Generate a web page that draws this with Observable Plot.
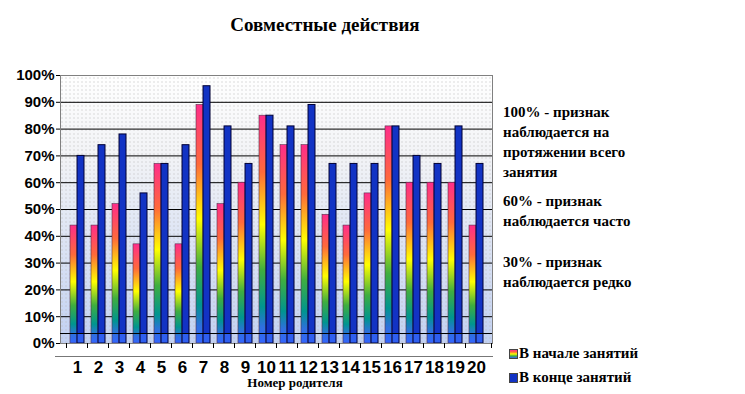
<!DOCTYPE html>
<html><head><meta charset="utf-8">
<script src="https://cdn.jsdelivr.net/npm/d3@7"></script>
<script src="https://cdn.jsdelivr.net/npm/@observablehq/plot@0.6"></script>
<style>
body{margin:0;background:#fff;}
#wrap{position:relative;width:745px;height:394px;overflow:hidden;}
#wrap svg{position:absolute;left:0;top:0;}
.t{position:absolute;font-weight:bold;color:#000;white-space:nowrap;font-family:'Liberation Serif','DejaVu Serif',serif;}
.sw{position:absolute;width:7px;height:8px;border:1px solid #444;}
.ln{position:absolute;}
</style></head><body><div id="wrap"></div>
<script>
const categories = ["1","2","3","4","5","6","7","8","9","10","11","12","13","14","15","16","17","18","19","20"];
const startValues = [44,44,52,37,67,37,89,52,60,85,74,74,48,44,56,81,60,60,60,44];
const endValues   = [70,74,78,56,67,74,96,81,67,85,81,89,67,67,67,81,70,67,81,67];
const yTicks = [0,10,20,30,40,50,60,70,80,90,100];
const seriesNames = ["В начале занятий","В конце занятий"];
const titleText = "Совместные действия";
const xLabel = "Номер родителя";
const notes = [
  ["100% - признак","наблюдается на","протяжении всего","занятия"],
  ["60% - признак","наблюдается часто"],
  ["30% -  признак","наблюдается редко"]
];

const startData = categories.map((c,i)=>({cat:c, v:startValues[i]}));
const endData = categories.map((c,i)=>({cat:c, v:endValues[i]}));

const W=745,H=394,mL=60,mR=253,mT=75,mB=51;
const pI=0.35,pO=0.175;
const innerW=W-mL-mR;
const step=innerW/(categories.length-pI+2*pO);
const half=step*(1-pI)/2;
const floorY=333;

const svg = Plot.plot({
  width:W,height:H,marginLeft:mL,marginRight:mR,marginTop:mT,marginBottom:mB,
  style:{fontFamily:"Liberation Sans, Arial, sans-serif",fontSize:"15px",fontWeight:"bold",color:"#000",background:"transparent"},
  x:{domain:categories,paddingInner:pI,paddingOuter:pO,tickSize:0,tickPadding:17,label:null},
  y:{domain:[0,100],ticks:yTicks,tickFormat:d=>d+"%",tickSize:4,tickPadding:2,label:null},
  marks:[
    Plot.frame({fill:"url(#bgGrad)"}),
    Plot.frame({fill:"url(#dots)"}),
    Plot.ruleY(yTicks.slice(0,-1),{stroke:"#000",strokeWidth:1}),
    Plot.ruleY(yTicks.slice(-1),{stroke:"#808080",strokeWidth:1}),
    Plot.barY(startData,{x:"cat",y:"v",insetRight:half,fill:"url(#startGrad)",stroke:"#55304a",strokeWidth:0.6}),
    Plot.barY(endData,{x:"cat",y:"v",insetLeft:half,fill:"url(#endGrad)",stroke:"#000035",strokeWidth:1}),
    Plot.frame({stroke:"#808080"})
  ]
});
const plotBottom=H-mB;
const defs = d3.select(svg).insert("defs",":first-child");
const g1 = defs.append("linearGradient").attr("id","startGrad").attr("x1",0).attr("y1",0).attr("x2",0).attr("y2",1);
[[0,"#ff2d8a"],[0.25,"#ff6a3a"],[0.48,"#ffff00"],[0.68,"#3fae3f"],[0.84,"#00958f"],[0.93,"#2f6fe0"],[1,"#3366ff"]]
  .forEach(([o,c])=>g1.append("stop").attr("offset",o).attr("stop-color",c));
const fo=(floorY-mT)/(plotBottom-mT);
const g3 = defs.append("linearGradient").attr("id","endGrad").attr("gradientUnits","userSpaceOnUse").attr("x1",0).attr("y1",mT).attr("x2",0).attr("y2",plotBottom);
[[0,"#1233c4"],[fo,"#1233c4"],[fo,"#2f5ff0"],[1,"#2f5ff0"]]
  .forEach(([o,c])=>g3.append("stop").attr("offset",o).attr("stop-color",c));
const g2 = defs.append("linearGradient").attr("id","bgGrad").attr("x1",0).attr("y1",0).attr("x2",0).attr("y2",1);
[[0,"#ffffff"],[0.3,"#f2f3f6"],[1,"#c2d1f2"]]
  .forEach(([o,c])=>g2.append("stop").attr("offset",o).attr("stop-color",c));
const pat = defs.append("pattern").attr("id","dots").attr("width",4).attr("height",4).attr("patternUnits","userSpaceOnUse");
pat.append("rect").attr("x",1).attr("y",1).attr("width",1).attr("height",1).attr("fill","#b8b8b8");
d3.select(svg).selectAll('[aria-label="x-axis tick label"] text, [aria-label="x-axis"] text').style("font-size","17px");

const wrap=document.getElementById("wrap");
wrap.appendChild(svg);
function addText(txt,x,y,size,extra){
  const d=document.createElement("div");d.className="t";d.textContent=txt;
  d.style.left=x+"px";d.style.top=y+"px";d.style.fontSize=size+"px";
  if(extra) Object.assign(d.style,extra);
  wrap.appendChild(d);return d;
}
function addLine(x,y,w,h,c){
  const d=document.createElement("div");d.className="ln";
  Object.assign(d.style,{left:x+"px",top:y+"px",width:w+"px",height:h+"px",background:c});
  wrap.appendChild(d);
}
addText(titleText,0,14,19,{width:"650px",textAlign:"center"});
addText(xLabel,195,376,13,{width:"200px",textAlign:"center",lineHeight:"14px"});
const lh=20;
let ys=[104,193,254];
notes.forEach((blk,bi)=>blk.forEach((l,li)=>addText(l,503,ys[bi]+li*lh,15)));
addLine(mL,floorY,innerW,1,"#000");
addLine(55,356,438,1,"#777");
const xs = svg.scale ? svg.scale("x") : null;
if(xs){
  categories.forEach((c,i)=>{
    const x0 = xs.apply(c) - step*pO;
    addLine(Math.round(x0),plotBottom,1,5,"#000");
  });
  addLine(mL+innerW-1,plotBottom,1,5,"#000");
}
const s1=document.createElement("div");s1.className="sw";
Object.assign(s1.style,{left:"509px",top:"349px",background:"linear-gradient(#ff2d8a,#ff6a3a,#ffff00,#3fae3f,#3366ff)"});
wrap.appendChild(s1);
const s2=document.createElement("div");s2.className="sw";
Object.assign(s2.style,{left:"509px",top:"373px",background:"#1233c4"});
wrap.appendChild(s2);
addText(seriesNames[0],519,345,15);
addText(seriesNames[1],519,369,15);
</script></body></html>
